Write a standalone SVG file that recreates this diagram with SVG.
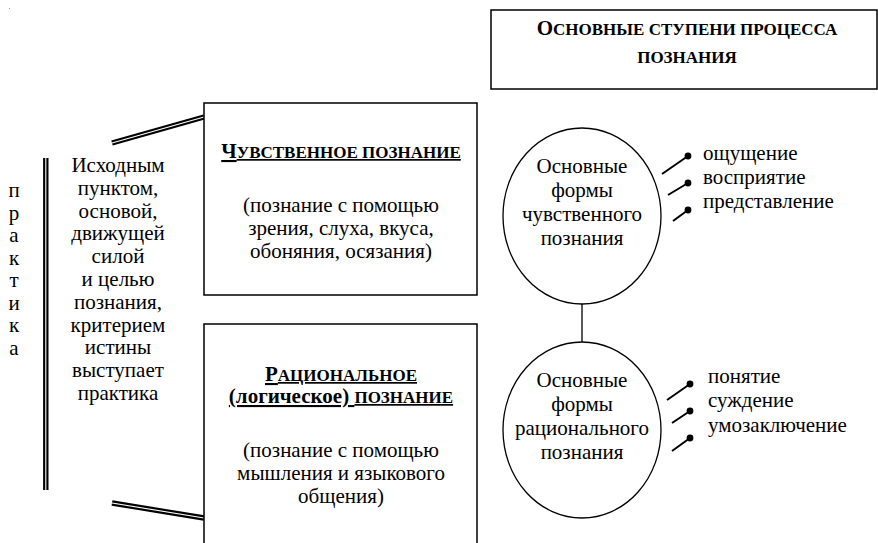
<svg xmlns="http://www.w3.org/2000/svg" width="878" height="543" viewBox="0 0 878 543">
<style>
text{font-family:"Liberation Serif","Times New Roman","DejaVu Serif",serif;fill:#000}
.t{font-size:21px}
.c{text-anchor:middle}
.b{font-weight:bold}
.big{font-size:21px}
.sm{font-size:17px}
.u{text-decoration:underline}
.box{fill:#fff;stroke:#000;stroke-width:1.5}
.ov{fill:#fff;stroke:#000;stroke-width:1.3}
.dbl{stroke:#000;stroke-width:5.4;fill:none}
.gap{stroke:#fff;stroke-width:1.1;fill:none}
.ln{stroke:#000;stroke-width:2;fill:none}
.thin{stroke:#000;stroke-width:1.3;fill:none}
.dot{fill:#000}
</style>
<rect x="9" y="8" width="1" height="1" fill="#999"/>
<g id="connectors">
  <line class="dbl" x1="112" y1="143" x2="204" y2="117"/>
  <line class="gap" x1="112" y1="143" x2="204" y2="117"/>
  <line class="dbl" x1="112" y1="503" x2="204" y2="518"/>
  <line class="gap" x1="112" y1="503" x2="204" y2="518"/>
  <line class="thin" x1="582" y1="304" x2="582" y2="342"/>
  <line class="ln" x1="662" y1="174" x2="688" y2="156"/>
  <line class="ln" x1="668" y1="195" x2="688" y2="183"/>
  <line class="ln" x1="673" y1="221" x2="688" y2="210"/>
  <circle class="dot" cx="688" cy="156" r="3.4"/>
  <circle class="dot" cx="688" cy="183" r="3.4"/>
  <circle class="dot" cx="688" cy="210" r="3.4"/>
  <line class="ln" x1="667" y1="400" x2="690" y2="384"/>
  <line class="ln" x1="672" y1="423" x2="690" y2="411"/>
  <line class="ln" x1="672" y1="451" x2="690" y2="438"/>
  <circle class="dot" cx="690" cy="384" r="3.4"/>
  <circle class="dot" cx="690" cy="411" r="3.4"/>
  <circle class="dot" cx="690" cy="438" r="3.4"/>
</g>
<g id="title">
  <rect class="box" x="491" y="10" width="386" height="79"/>
  <text class="c b" x="687" y="35"><tspan class="big">О</tspan><tspan class="sm">СНОВНЫЕ СТУПЕНИ ПРОЦЕССА</tspan></text>
  <text class="c b sm" x="687" y="63">ПОЗНАНИЯ</text>
</g>
<g id="praktika">
  <line class="dbl" x1="45.8" y1="158" x2="45.8" y2="490"/>
  <line class="gap" x1="45.8" y1="158" x2="45.8" y2="490"/>
  <text class="t c" x="14" y="197">п</text>
  <text class="t c" x="14" y="219.5">р</text>
  <text class="t c" x="14" y="242">а</text>
  <text class="t c" x="14" y="264.5">к</text>
  <text class="t c" x="14" y="287">т</text>
  <text class="t c" x="14" y="309.5">и</text>
  <text class="t c" x="14" y="332">к</text>
  <text class="t c" x="14" y="354.5">а</text>
</g>
<g id="source-text">
  <text class="t c" x="118" y="172">Исходным</text>
  <text class="t c" x="118" y="194.8">пунктом,</text>
  <text class="t c" x="118" y="217.6">основой,</text>
  <text class="t c" x="118" y="240.4">движущей</text>
  <text class="t c" x="118" y="263.2">силой</text>
  <text class="t c" x="118" y="286">и целью</text>
  <text class="t c" x="118" y="308.8">познания,</text>
  <text class="t c" x="118" y="331.6">критерием</text>
  <text class="t c" x="118" y="354.4">истины</text>
  <text class="t c" x="118" y="377.2">выступает</text>
  <text class="t c" x="118" y="400">практика</text>
</g>
<g id="sensory">
  <rect class="box" x="204" y="103" width="273" height="192"/>
  <text class="c b u" x="341" y="158"><tspan class="big">Ч</tspan><tspan class="sm">УВСТВЕННОЕ ПОЗНАНИЕ</tspan></text>
  <text class="t c" x="341" y="212">(познание с помощью</text>
  <text class="t c" x="341" y="235">зрения, слуха, вкуса,</text>
  <text class="t c" x="341" y="258">обоняния, осязания)</text>
</g>
<g id="rational">
  <rect class="box" x="204" y="324" width="273" height="230"/>
  <text class="c b u" x="341" y="381"><tspan class="big">Р</tspan><tspan class="sm">АЦИОНАЛЬНОЕ</tspan></text>
  <text class="c b u" x="341" y="403"><tspan class="big">(логическое) </tspan><tspan class="sm">ПОЗНАНИЕ</tspan></text>
  <text class="t c" x="341" y="457">(познание с помощью</text>
  <text class="t c" x="341" y="480">мышления и языкового</text>
  <text class="t c" x="341" y="503">общения)</text>
</g>
<g id="sensory-forms">
  <ellipse class="ov" cx="582" cy="216" rx="79" ry="88"/>
  <text class="t c" x="582" y="173">Основные</text>
  <text class="t c" x="582" y="197">формы</text>
  <text class="t c" x="582" y="221">чувственного</text>
  <text class="t c" x="582" y="245">познания</text>
  <text class="t" x="703" y="160">ощущение</text>
  <text class="t" x="703" y="184">восприятие</text>
  <text class="t" x="703" y="208">представление</text>
</g>
<g id="rational-forms">
  <ellipse class="ov" cx="582" cy="430" rx="79" ry="88"/>
  <text class="t c" x="582" y="387">Основные</text>
  <text class="t c" x="582" y="411">формы</text>
  <text class="t c" x="582" y="435">рационального</text>
  <text class="t c" x="582" y="459">познания</text>
  <text class="t" x="708" y="383">понятие</text>
  <text class="t" x="708" y="407">суждение</text>
  <text class="t" x="708" y="432">умозаключение</text>
</g>
</svg>
